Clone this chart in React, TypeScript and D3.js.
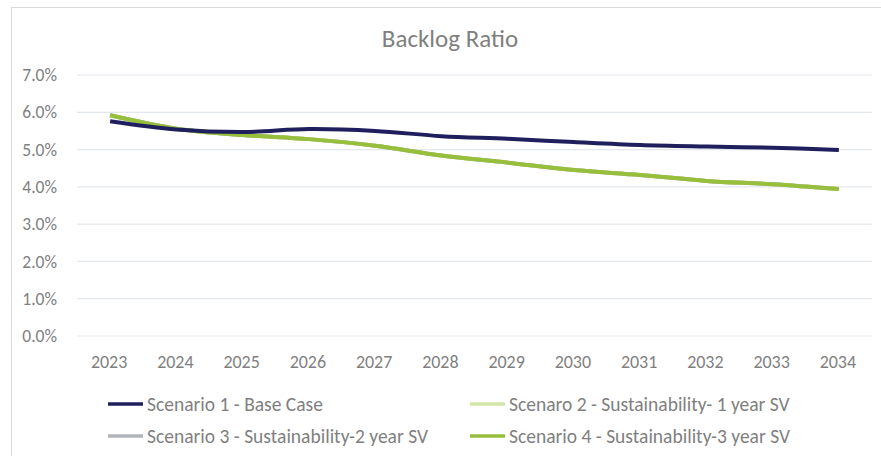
import React from "react";
import * as d3 from "d3";

const years = ["2023","2024","2025","2026","2027","2028","2029","2030","2031","2032","2033","2034"];
const scenario1 = [5.76, 5.54, 5.47, 5.55, 5.50, 5.36, 5.29, 5.20, 5.12, 5.08, 5.05, 4.99];
const scenario2 = [5.92, 5.56, 5.39, 5.28, 5.10, 4.84, 4.65, 4.45, 4.32, 4.16, 4.07, 3.94];
const scenario3 = [5.92, 5.56, 5.39, 5.28, 5.10, 4.84, 4.65, 4.45, 4.32, 4.16, 4.07, 3.94];
const scenario4 = [5.92, 5.56, 5.39, 5.28, 5.10, 4.84, 4.65, 4.45, 4.32, 4.16, 4.07, 3.94];
const yTicks = [0, 1, 2, 3, 4, 5, 6, 7];
const seriesNames = [
  "Scenario 1 - Base Case",
  "Scenaro 2 - Sustainability- 1 year SV",
  "Scenario 3 - Sustainability-2 year SV",
  "Scenario 4 - Sustainability-3 year SV",
];

const W = 881, H = 456;
const FONT = "Carlito, Lato, 'Open Sans', sans-serif";
const TEXT = "#7f7f7f";

export default function App() {
  const x = d3.scaleBand<string>().domain(years).range([77, 872]);
  const y = d3.scaleLinear().domain([0, 7]).range([336, 75]);
  const cx = (yr: string) => (x(yr) as number) + x.bandwidth() / 2;
  const line = d3.line<number>()
    .x((_, i) => cx(years[i]))
    .y((d) => y(d))
    .curve(d3.curveCatmullRom.alpha(0.5));

  const series = [
    { name: seriesNames[0], values: scenario1, color: "#1e1f5c" },
    { name: seriesNames[1], values: scenario2, color: "#d3e6a8" },
    { name: seriesNames[2], values: scenario3, color: "#b1b4bb" },
    { name: seriesNames[3], values: scenario4, color: "#97bf3b" },
  ];
  const drawOrder = [1, 2, 3, 0].map((i) => series[i]);
  const legendPos = [
    { x: 108, y: 404 },
    { x: 470, y: 404 },
    { x: 108, y: 436 },
    { x: 470, y: 436 },
  ];

  return (
    <div style={{ position: "fixed", left: 0, top: 0, width: W, height: H, background: "#fff" }}>
      <svg width={W} height={H} style={{ display: "block" }}>
        <rect x={0} y={0} width={W} height={H} fill="#fff" />
        <rect x={11.5} y={7.5} width={W + 20} height={H + 20} fill="#fff" stroke="#d9d9d9" strokeWidth={1} />
        <text x={450} y={47} textAnchor="middle" fontFamily={FONT} fontSize={25} fill={TEXT}>Backlog Ratio</text>
        {yTicks.map((t) => (
          <g key={t}>
            <line x1={77} x2={872} y1={y(t)} y2={y(t)} stroke="#e3e8ef" strokeWidth={1.2} />
            <text x={57} y={y(t)} dy="0.35em" textAnchor="end" fontFamily={FONT} fontSize={17.5} fill={TEXT}>
              {t.toFixed(1) + "%"}
            </text>
          </g>
        ))}
        {years.map((yr) => (
          <text key={yr} x={cx(yr) - 1} y={368} textAnchor="middle" fontFamily={FONT} fontSize={18} fill={TEXT}>{yr}</text>
        ))}
        {drawOrder.map((s) => (
          <path key={s.name} d={line(s.values) || ""} fill="none" stroke={s.color} strokeWidth={4} strokeLinejoin="round" />
        ))}
        {series.map((s, i) => (
          <g key={s.name}>
            <line x1={legendPos[i].x} x2={legendPos[i].x + 35} y1={legendPos[i].y} y2={legendPos[i].y} stroke={s.color} strokeWidth={3.5} />
            <text x={legendPos[i].x + 39} y={legendPos[i].y} dy="0.35em" fontFamily={FONT} fontSize={19.5} fill={TEXT}>{s.name}</text>
          </g>
        ))}
      </svg>
    </div>
  );
}
